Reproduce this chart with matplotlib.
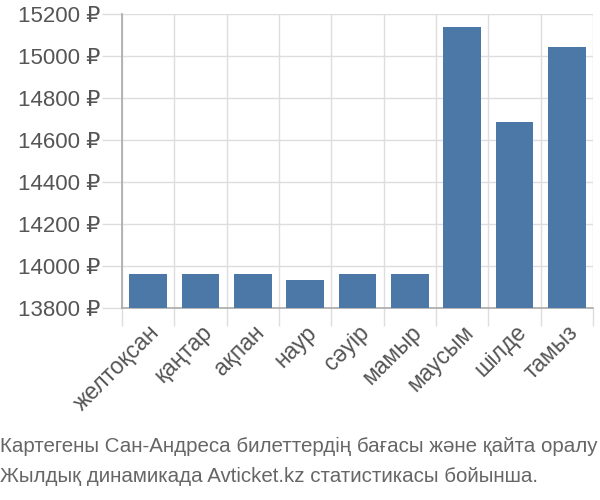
import matplotlib
matplotlib.use("Agg")
import matplotlib.pyplot as plt
from matplotlib.ticker import FuncFormatter, MultipleLocator

months = ["желтоқсан", "қаңтар", "ақпан", "наур", "сәуір", "мамыр", "маусым", "шілде", "тамыз"]
prices = [13960, 13960, 13960, 13935, 13960, 13960, 15138, 14684, 15045]
caption = ["Картегены Сан-Андреса билеттердің бағасы және қайта оралу",
           "Жылдық динамикада Avticket.kz статистикасы бойынша."]

plt.rcParams['font.family'] = ['Liberation Sans', 'DejaVu Sans']

fig = plt.figure(figsize=(6, 5), dpi=100)
ax = fig.add_axes([122/600, 1-308/500, (593-122)/600, (308-14)/500])

x = list(range(len(months)))
ax.bar(x, [p - 13800 for p in prices], bottom=13800, width=0.72, color="#4c78a8", zorder=3)
ax.set_xlim(-0.5, len(months) - 0.5)
ax.set_ylim(13800, 15200)
ax.yaxis.set_major_locator(MultipleLocator(200))
ax.yaxis.set_major_formatter(FuncFormatter(lambda v, p: f"{int(v)} ₽"))
ax.set_xticks([i - 0.5 for i in range(len(months) + 1)], minor=False)
ax.set_xticklabels([])
ax.set_xticks(x, minor=True)
ax.set_xticklabels(months, minor=True, rotation=45, ha="right", rotation_mode="anchor")
ax.tick_params(axis="x", which="minor", length=0, pad=9, labelsize=16.5, labelcolor="#555555")
ax.tick_params(axis="x", which="major", length=13, color="#dddddd", width=1)
ax.tick_params(axis="y", length=14.4, color="#dddddd", width=1, labelsize=16, labelcolor="#555555", pad=1.5)
ax.grid(True, which="major", color="#dddddd", linewidth=1, zorder=0)
for s in ["top", "right"]:
    ax.spines[s].set_visible(False)
ax.spines["left"].set_color("#aaaaaa")
ax.spines["bottom"].set_color("#aaaaaa")
ax.spines["left"].set_linewidth(1.2)
ax.spines["bottom"].set_linewidth(1.2)

fig.text(0.0, 1-446/500, caption[0], fontsize=14.8, color="#666666", va="center", ha="left")
fig.text(0.0, 1-476/500, caption[1], fontsize=14.8, color="#666666", va="center", ha="left")

fig.savefig("out.png", dpi=100)
